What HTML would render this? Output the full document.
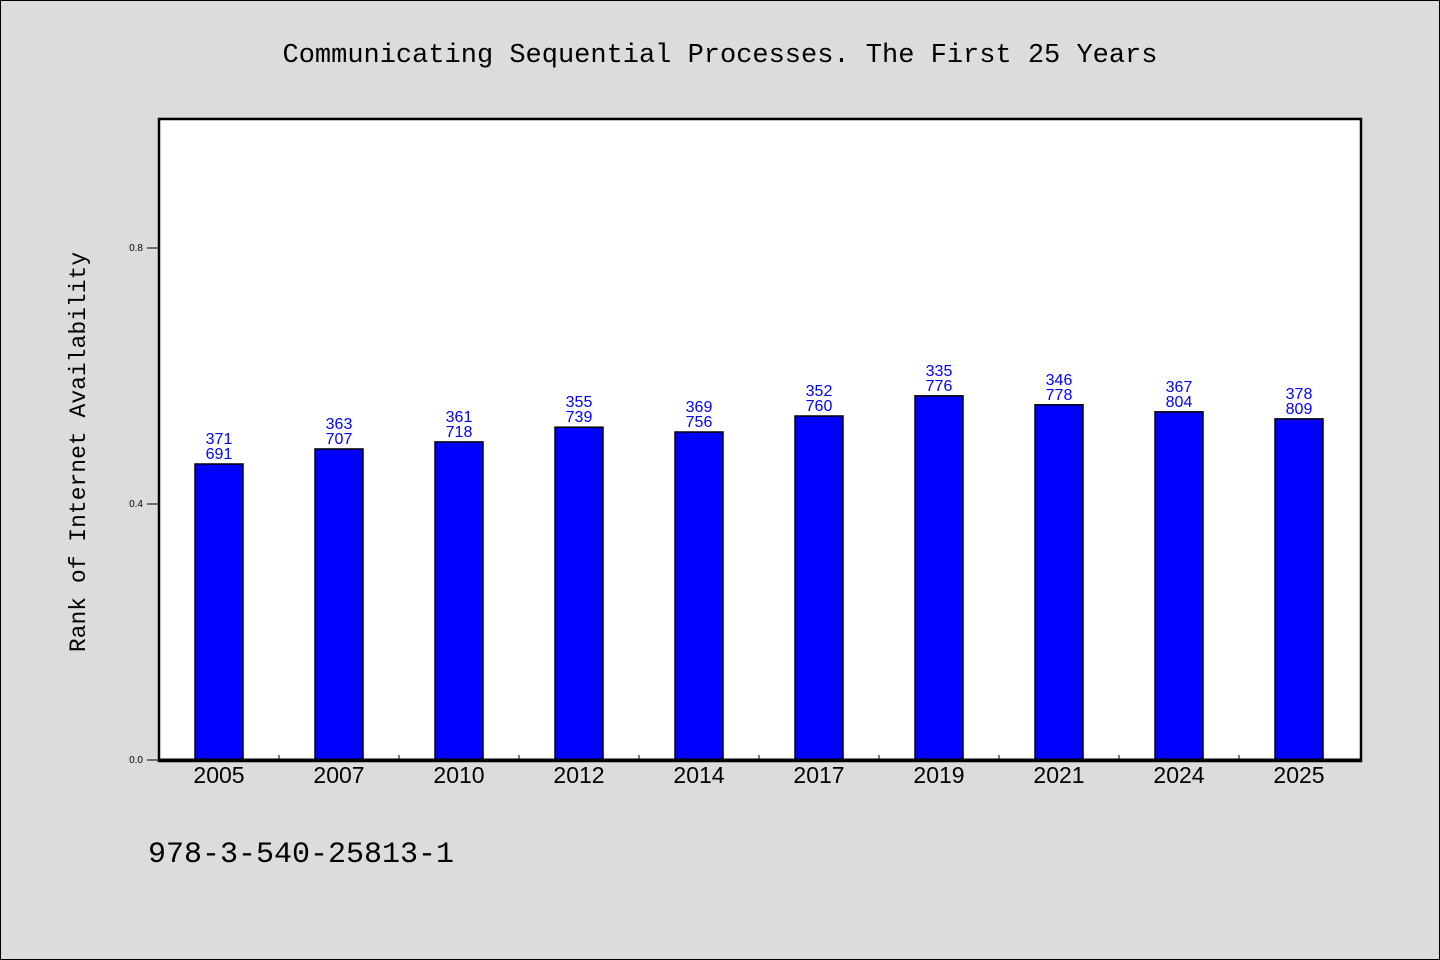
<!DOCTYPE html>
<html><head><meta charset="utf-8"><style>
body{margin:0;background:#dcdcdc;}
svg{display:block;font-family:"Liberation Sans","WenQuanYi Zen Hei",sans-serif;}
</style></head><body>
<svg width="1440" height="960">
<rect x="0.5" y="0.5" width="1439" height="959" fill="#dcdcdc" stroke="#000"/>
<text x="720" y="62" text-anchor="middle" font-size="27" font-family="'Liberation Mono',monospace">Communicating Sequential Processes. The First 25 Years</text>
<rect x="159" y="119" width="1202" height="642" fill="#fff"/>
<g id="bars"></g>
<g id="axes"></g>
<rect x="159" y="119" width="1202" height="642" fill="none" stroke="#000" stroke-width="2.5"/>
<line x1="159" y1="760" x2="1361" y2="760" stroke="#000" stroke-width="3"/>
<text x="0" y="0" transform="translate(85,452) rotate(-90)" text-anchor="middle" font-size="23" font-family="'Liberation Mono',monospace">Rank of Internet Availability</text>
<text x="148" y="862" font-size="30" font-family="'Liberation Mono',monospace">978-3-540-25813-1</text>
</svg>
<script>
const categories=["2005","2007","2010","2012","2014","2017","2019","2021","2024","2025"];
const values=[0.4625,0.486,0.497,0.520,0.5125,0.5375,0.569,0.555,0.544,0.533];
const labelTop=["371","363","361","355","369","352","335","346","367","378"];
const labelBottom=["691","707","718","739","756","760","776","778","804","809"];
const yTicks=[0.0,0.4,0.8];
const NS="http://www.w3.org/2000/svg";
const x0=159,step=120,yBase=760,yScale=640;
const xs=i=>x0+step*i+step/2;
const ys=v=>yBase-v*yScale;
function mk(tag,attrs,parent){const e=document.createElementNS(NS,tag);for(const k in attrs)e.setAttribute(k,attrs[k]);parent.appendChild(e);return e;}
const bars=document.getElementById('bars'),axes=document.getElementById('axes');
categories.forEach((c,i)=>{
  const cx=xs(i),top=ys(values[i]);
  const r=mk('rect',{x:cx-24,y:top,width:48,height:yBase-top,fill:'#0000ff',stroke:'#000','stroke-width':1.5},bars);
  
  
  const t1=mk('text',{x:cx,y:top-20,'text-anchor':'middle','font-size':16,fill:'#0000ff'},bars);t1.textContent=labelTop[i];
  
  
  const t2=mk('text',{x:cx,y:top-5,'text-anchor':'middle','font-size':16,fill:'#0000ff'},bars);t2.textContent=labelBottom[i];
  
  
  const xl=mk('text',{x:cx,y:783,'text-anchor':'middle','font-size':23},axes);xl.textContent=c;
  
  
  if(i>0){const tk=mk('line',{x1:x0+step*i,x2:x0+step*i,y1:760,y2:755,stroke:'#000','stroke-width':1},axes);
  
  }
});
yTicks.forEach(v=>{
  const y=ys(v);
  const tk=mk('line',{x1:147,x2:159,y1:y,y2:y,stroke:'#000','stroke-width':1},axes);
  
  
  const t=mk('text',{x:143,y:y+3,'text-anchor':'end','font-size':10},axes);t.textContent=v.toFixed(1);
  
  
});
</script>
</body></html>
